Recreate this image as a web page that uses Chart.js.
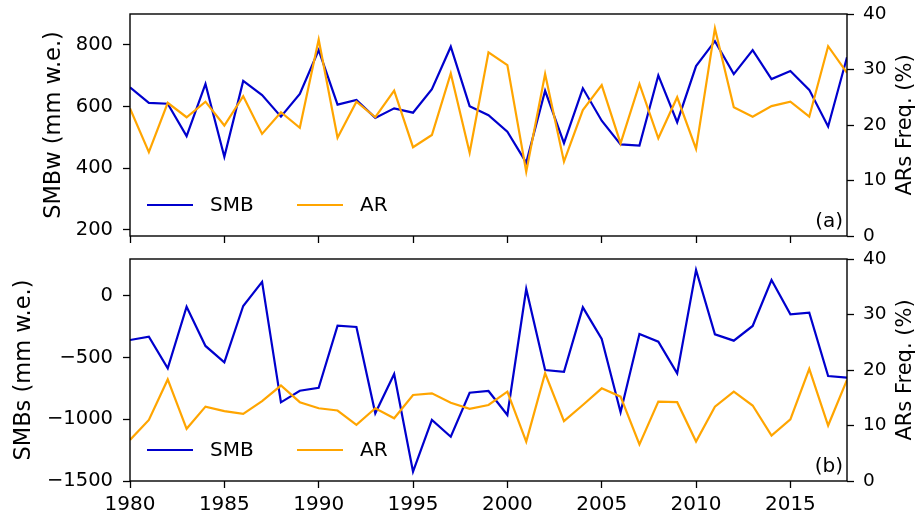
<!DOCTYPE html>
<html>
<head>
<meta charset="utf-8">
<script src="https://cdn.jsdelivr.net/npm/chart.js@4.4.0/dist/chart.umd.min.js"></script>
<style>
  html, body { margin: 0; padding: 0; background: #fff; }
  #wrap { position: relative; width: 921px; height: 517px; }
  canvas { position: absolute; left: 0; }
  #top { top: 0; }
  #bottom { top: 250px; }
</style>
</head>
<body>
<div id="wrap">
  <canvas id="top" width="921" height="250"></canvas>
  <canvas id="bottom" width="921" height="267"></canvas>
</div>
<script>
const years = [1980, 1981, 1982, 1983, 1984, 1985, 1986, 1987, 1988, 1989,
  1990, 1991, 1992, 1993, 1994, 1995, 1996, 1997, 1998, 1999,
  2000, 2001, 2002, 2003, 2004, 2005, 2006, 2007, 2008, 2009,
  2010, 2011, 2012, 2013, 2014, 2015, 2016, 2017, 2018];

// winter (a)
const smbW = [662, 612, 609, 504, 673, 437, 683, 637, 567, 641,
  783, 606, 621, 563, 594, 580, 656, 794, 601, 572,
  518, 418, 651, 481, 659, 554, 477, 473, 701, 549,
  731, 812, 705, 783, 689, 715, 654, 535, 760];
const arW = [23.0, 15.1, 24.0, 21.4, 24.2, 19.9, 25.2, 18.4, 22.3, 19.5,
  35.4, 17.7, 24.2, 21.4, 26.2, 16.0, 18.2, 29.3, 15.0, 33.1,
  30.8, 11.6, 29.2, 13.4, 22.7, 27.2, 16.7, 27.4, 17.6, 25.0,
  15.7, 37.4, 23.2, 21.5, 23.4, 24.2, 21.5, 34.2, 29.4];

// summer (b)
const smbS = [-357, -330, -586, -87, -405, -538, -81, 114, -862, -768,
  -744, -241, -251, -951, -632, -1425, -1005, -1141, -784, -770,
  -965, 57, -600, -614, -92, -349, -943, -308, -370, -627,
  211, -311, -362, -243, 130, -149, -135, -649, -662];
const arS = [7.4, 11.0, 18.3, 9.4, 13.4, 12.6, 12.1, 14.4, 17.2, 14.2,
  13.1, 12.7, 10.1, 13.1, 11.3, 15.5, 15.8, 14.1, 13.0, 13.7,
  16.1, 7.1, 19.4, 10.8, 13.7, 16.7, 15.2, 6.6, 14.3, 14.2,
  7.1, 13.4, 16.1, 13.6, 8.2, 11.1, 20.2, 10.0, 18.2];

const xTicks = [1980, 1985, 1990, 1995, 2000, 2005, 2010, 2015];
const smbWTicks = [200, 400, 600, 800];
const smbSTicks = [-1500, -1000, -500, 0];
const arTicks = [0, 10, 20, 30, 40];

Chart.defaults.font.family = 'DejaVu Sans';
Chart.defaults.color = '#000';

const BLUE = '#0000cd';
const ORANGE = '#ffa500';

const fmt = v => String(v).replace('-', '\u2212');
const noPad = s => { s.paddingTop = 0; s.paddingBottom = 0; s.paddingLeft = 0; s.paddingRight = 0; };

// black frame, legend inside bottom-left, panel tag, right-hand title read upwards
const framePlugin = {
  id: 'frame',
  afterDraw(chart, args, opts) {
    const { ctx, chartArea: a } = chart;
    ctx.save();
    ctx.strokeStyle = '#000';
    ctx.lineWidth = 1.4;
    ctx.strokeRect(a.left, a.top, a.right - a.left, a.bottom - a.top);

    ctx.font = '20px "DejaVu Sans"';
    ctx.textBaseline = 'middle';
    ctx.fillStyle = '#000';
    const y = a.bottom - 31;
    const items = chart.data.datasets.slice().sort((p, q) => p.legendIndex - q.legendIndex);
    items.forEach((d, i) => {
      const x0 = a.left + 17 + i * 150;
      ctx.strokeStyle = d.borderColor;
      ctx.lineWidth = 2.2;
      ctx.beginPath();
      ctx.moveTo(x0, y);
      ctx.lineTo(x0 + 46, y);
      ctx.stroke();
      ctx.textAlign = 'left';
      ctx.fillText(d.label, x0 + 63, y + 1);
    });

    ctx.textAlign = 'right';
    ctx.fillText(opts.tag, a.right - 4, a.bottom - 14);

    ctx.font = '21px "DejaVu Sans"';
    ctx.textAlign = 'center';
    ctx.translate(906, (a.top + a.bottom) / 2);
    ctx.rotate(-Math.PI / 2);
    ctx.fillText(opts.rightTitle, 0, 0);
    ctx.restore();
  }
};

function makePanel(id, smb, ar, leftTicks, leftMin, leftMax, leftTitle, leftTitlePad, tag, showX, padTop, xHeight) {
  const pts = vals => years.map((yr, i) => ({ x: yr, y: vals[i] }));
  return new Chart(document.getElementById(id), {
    type: 'line',
    data: {
      datasets: [
        { label: 'SMB', data: pts(smb), yAxisID: 'yL', borderColor: BLUE, borderWidth: 2.2,
          pointRadius: 0, tension: 0, order: 2, legendIndex: 0 },
        { label: 'AR', data: pts(ar), yAxisID: 'yR', borderColor: ORANGE, borderWidth: 2.2,
          pointRadius: 0, tension: 0, order: 1, legendIndex: 1 }
      ]
    },
    options: {
      responsive: false,
      animation: false,
      layout: { padding: { top: padTop, left: 0, right: 0, bottom: 0 } },
      plugins: {
        legend: { display: false },
        tooltip: { enabled: false },
        frame: { tag, rightTitle: 'ARs Freq. (%)' }
      },
      scales: {
        x: {
          type: 'linear',
          min: 1980,
          max: 2018,
          afterBuildTicks: s => { s.ticks = xTicks.map(v => ({ value: v })); },
          afterFit: s => { s.height = xHeight; noPad(s); },
          border: { display: false },
          grid: { drawOnChartArea: false, tickLength: 7, tickColor: '#000', tickWidth: 1.3 },
          ticks: { display: showX, padding: 5, font: { size: 20 }, maxRotation: 0, callback: v => String(v) }
        },
        yL: {
          position: 'left',
          min: leftMin,
          max: leftMax,
          afterBuildTicks: s => { s.ticks = leftTicks.map(v => ({ value: v })); },
          afterFit: s => { s.width = 130; noPad(s); },
          border: { display: false },
          grid: { drawOnChartArea: false, tickLength: 7, tickColor: '#000', tickWidth: 1.3 },
          ticks: { padding: 10, font: { size: 19.5 }, callback: fmt },
          title: { display: true, text: leftTitle, font: { size: 22.5 }, padding: { top: leftTitlePad, bottom: 0 } }
        },
        yR: {
          position: 'right',
          min: 0,
          max: 40,
          afterBuildTicks: s => { s.ticks = arTicks.map(v => ({ value: v })); },
          afterFit: s => { s.width = 74; noPad(s); },
          border: { display: false },
          grid: { drawOnChartArea: false, tickLength: 7, tickColor: '#000', tickWidth: 1.3 },
          ticks: { padding: 9, font: { size: 18.5 }, callback: fmt }
        }
      }
    },
    plugins: [framePlugin]
  });
}

makePanel('top', smbW, arW, smbWTicks, 180, 900, 'SMBw (mm w.e.)', 41, '(a)', false, 14, 14);
makePanel('bottom', smbS, arS, smbSTicks, -1500, 300, 'SMBs (mm w.e.)', 11, '(b)', true, 9, 36);
</script>
</body>
</html>
